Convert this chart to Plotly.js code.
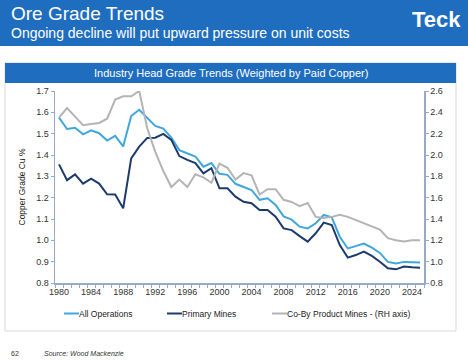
<!DOCTYPE html>
<html>
<head>
<meta charset="utf-8">
<script src="https://cdn.plot.ly/plotly-3.0.1.min.js"></script>
<style>
  html, body { margin: 0; padding: 0; background: #ffffff; }
  #chart { width: 468px; height: 361px; }
</style>
</head>
<body>
<div id="chart"></div>
<script>
// ---- data ----
const years = [1980,1981,1982,1983,1984,1985,1986,1987,1988,1989,1990,1991,1992,1993,1994,1995,1996,1997,1998,1999,2000,2001,2002,2003,2004,2005,2006,2007,2008,2009,2010,2011,2012,2013,2014,2015,2016,2017,2018,2019,2020,2021,2022,2023,2024,2025];

const allOperations = [1.575,1.522,1.528,1.497,1.516,1.502,1.468,1.490,1.440,1.583,1.612,1.574,1.536,1.524,1.482,1.423,1.408,1.393,1.345,1.362,1.312,1.307,1.265,1.250,1.236,1.190,1.197,1.166,1.112,1.097,1.064,1.056,1.080,1.119,1.108,1.017,0.962,0.973,0.985,0.966,0.941,0.899,0.891,0.899,0.897,0.896];

const primaryMines = [1.356,1.282,1.309,1.266,1.289,1.266,1.216,1.215,1.150,1.384,1.439,1.480,1.481,1.499,1.471,1.395,1.377,1.362,1.314,1.338,1.244,1.244,1.205,1.181,1.174,1.142,1.142,1.111,1.056,1.048,1.020,0.994,1.033,1.083,1.072,0.978,0.919,0.931,0.947,0.927,0.900,0.869,0.864,0.877,0.874,0.872];

const coByProductMines = [2.35,2.44,2.36,2.28,2.29,2.30,2.34,2.52,2.55,2.55,2.60,2.25,2.03,1.85,1.70,1.77,1.70,1.82,1.79,1.74,1.92,1.88,1.77,1.83,1.81,1.63,1.68,1.68,1.58,1.56,1.52,1.55,1.42,1.41,1.42,1.44,1.42,1.39,1.36,1.33,1.30,1.22,1.20,1.19,1.20,1.20];

const seriesNames = ["All Operations", "Primary Mines", "Co-By Product Mines - (RH axis)"];
const seriesColors = ["#3fa6de", "#1c3a6b", "#b4b4b4"];
const xTickYears = [1980,1984,1988,1992,1996,2000,2004,2008,2012,2016,2020,2024];

const titleText = "Ore Grade Trends";
const subtitleText = "Ongoing decline will put upward pressure on unit costs";
const chartTitleText = "Industry Head Grade Trends (Weighted by Paid Copper)";
const yTitleText = "Copper Grade Cu %";
const sourceText = "Source: Wood Mackenzie";
const pageNumber = "62";
const logoText = "Teck";

// ---- layout helpers (pixel -> paper) ----
const W = 468, H = 361;
const M = {l: 55, r: 44, t: 91, b: 78};
const PW = W - M.l - M.r, PH = H - M.t - M.b;
const X = px => (px - M.l) / PW;
const Y = py => (H - M.b - py) / PH;

const BLUE = "#1f6dbf";
const FONT = "Liberation Sans, Arial, Helvetica, sans-serif";

const traces = [
  {x: years, y: allOperations, name: seriesNames[0], type: "scatter", mode: "lines",
   line: {color: seriesColors[0], width: 2}},
  {x: years, y: primaryMines, name: seriesNames[1], type: "scatter", mode: "lines",
   line: {color: seriesColors[1], width: 2}},
  {x: years, y: coByProductMines, name: seriesNames[2], type: "scatter", mode: "lines",
   yaxis: "y2", line: {color: seriesColors[2], width: 2}}
];

const axisLine = "#95abc9";

// legend drawn by hand (short line samples like the original)
const legendY = 313.5;
const legendStarts = [64, 167, 272];   // left end of each sample line, px
const legendShapes = legendStarts.map((x0, i) => ({
  type: "line", xref: "paper", yref: "paper",
  x0: X(x0), x1: X(x0 + 15), y0: Y(legendY), y1: Y(legendY),
  line: {color: seriesColors[i], width: 2}
}));
const legendTexts = legendStarts.map((x0, i) => ({
  text: seriesNames[i], xref: "paper", yref: "paper",
  x: X(x0 + 15), y: Y(legendY), xanchor: "left", yanchor: "middle",
  showarrow: false, xshift: -2,
  font: {size: 8.5, color: "#222222", family: FONT}
}));

const layout = {
  width: W, height: H, autosize: false,
  margin: M,
  paper_bgcolor: "#ffffff", plot_bgcolor: "#ffffff",
  font: {family: FONT, color: "#333333", size: 9},
  showlegend: false,
  xaxis: {
    range: [1979.5, 2025.5], showgrid: false, zeroline: false,
    showline: true, linecolor: axisLine, linewidth: 1.5,
    tickmode: "array", tickvals: xTickYears, ticktext: xTickYears.map(String),
    ticks: "", tickfont: {size: 9, color: "#333333"},
    minor: {tick0: 1979.5, dtick: 1, ticks: "outside", ticklen: 3, tickcolor: axisLine, tickwidth: 1, showgrid: false},
    fixedrange: true
  },
  yaxis: {
    range: [0.8, 1.7], dtick: 0.1, tick0: 0.8, tickformat: ".1f",
    showgrid: false, zeroline: false,
    showline: true, linecolor: axisLine, linewidth: 1.5,
    ticks: "outside", ticklen: 3, tickcolor: axisLine,
    tickfont: {size: 9, color: "#333333"},
    title: {text: yTitleText, font: {size: 8.5, color: "#222222"}, standoff: 9},
    fixedrange: true
  },
  yaxis2: {
    overlaying: "y", side: "right",
    range: [0.8, 2.6], dtick: 0.2, tick0: 0.8, tickformat: ".1f",
    showgrid: false, zeroline: false,
    showline: true, linecolor: axisLine, linewidth: 1.5,
    ticks: "outside", ticklen: 3, tickcolor: axisLine,
    tickfont: {size: 9, color: "#333333"},
    fixedrange: true
  },
  shapes: [
    {type: "rect", xref: "paper", yref: "paper", layer: "below",
     x0: X(0), x1: X(W), y0: Y(46), y1: Y(0), fillcolor: BLUE, line: {width: 0}},
    {type: "rect", xref: "paper", yref: "paper", layer: "below",
     x0: X(5), x1: X(456), y0: Y(331), y1: Y(63), fillcolor: "rgba(0,0,0,0)",
     line: {color: "#d9d9d9", width: 1}},
    {type: "rect", xref: "paper", yref: "paper", layer: "below",
     x0: X(5), x1: X(456), y0: Y(83), y1: Y(63), fillcolor: BLUE, line: {width: 0}}
  ].concat(legendShapes),
  annotations: [
    {text: titleText, xref: "paper", yref: "paper", x: X(9), y: Y(13.5),
     xanchor: "left", yanchor: "middle", showarrow: false,
     font: {size: 19, color: "#ffffff", family: FONT}},
    {text: subtitleText, xref: "paper", yref: "paper", x: X(9), y: Y(32.5),
     xanchor: "left", yanchor: "middle", showarrow: false,
     font: {size: 14, color: "#ffffff", family: FONT}},
    {text: "<b>" + logoText + "</b>", xref: "paper", yref: "paper", x: X(463), y: Y(20),
     xanchor: "right", yanchor: "middle", showarrow: false,
     font: {size: 22, color: "#ffffff", family: FONT}},
    {text: chartTitleText, xref: "paper", yref: "paper", x: X(231), y: Y(73),
     xanchor: "center", yanchor: "middle", showarrow: false,
     font: {size: 11, color: "#ffffff", family: FONT}},
    {text: pageNumber, xref: "paper", yref: "paper", x: X(9), y: Y(353),
     xanchor: "left", yanchor: "middle", showarrow: false,
     font: {size: 7, color: "#333333", family: FONT}},
    {text: "<i>" + sourceText + "</i>", xref: "paper", yref: "paper", x: X(42), y: Y(353),
     xanchor: "left", yanchor: "middle", showarrow: false,
     font: {size: 7, color: "#333333", family: FONT}}
  ].concat(legendTexts)
};

Plotly.newPlot("chart", traces, layout, {displayModeBar: false, staticPlot: true});
</script>
</body>
</html>
